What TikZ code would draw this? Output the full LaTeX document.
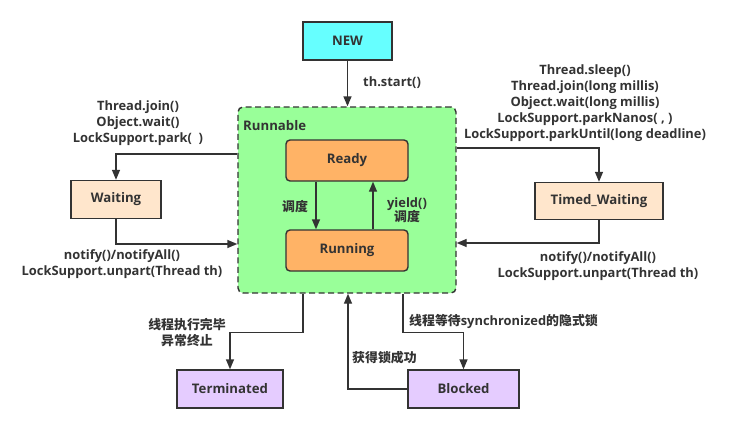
\documentclass[tikz,border=0pt]{standalone}
\usepackage{fontspec}
\setmainfont{Open Sans}
\newfontfamily\cjk{Noto Sans CJK SC}
\usetikzlibrary{arrows.meta}

\definecolor{linec}{HTML}{333333}
\definecolor{newc}{HTML}{66FFFF}
\definecolor{runc}{HTML}{99FF99}
\definecolor{readyc}{HTML}{FFB366}
\definecolor{waitc}{HTML}{FFE6CC}
\definecolor{endc}{HTML}{E5CCFF}

\newcommand{\zh}[1]{{\cjk #1}}

\tikzset{
    state/.style={draw=linec, line width=1.4pt, text=linec,
        font=\fontsize{13.2}{15}\selectfont\bfseries, inner sep=0pt},
    inner/.style={state, rounded corners=4pt, fill=readyc,
        minimum width=122pt, minimum height=41pt},
    arr/.style={draw=linec, line width=1.4pt,
        -{Triangle[length=10pt,width=8pt]}},
    lab/.style={text=linec, align=center, inner sep=0pt,
        font=\fontsize{12.9}{16}\selectfont\bfseries},
}

\begin{document}
\begin{tikzpicture}[x=1pt,y=-1pt]
        \useasboundingbox (0,0) rectangle (732,431);
        % states
        \node[state, fill=newc, minimum width=89pt, minimum height=38pt] (new) at (347.5,41) {NEW};
        \node[state, dashed, dash pattern=on 6pt off 3.5pt, rounded corners=5pt, fill=runc,
            minimum width=218pt, minimum height=186pt] (run) at (347,200) {};
        \node[lab, anchor=west, font=\fontsize{13.2}{15}\selectfont\bfseries] (runlab) at (243,126) {Runnable};
        \node[inner] (ready) at (347,160.5) {Ready};
        \node[inner] (running) at (347,250.5) {Running};
        \node[state, fill=waitc, minimum width=90pt, minimum height=38pt] (wait) at (116,199.5) {Waiting};
        \node[state, fill=waitc, minimum width=128pt, minimum height=37pt] (timed) at (599,201) {Timed\_Waiting};
        \node[state, fill=endc, minimum width=106pt, minimum height=38pt] (term) at (230,389) {Terminated};
        \node[state, fill=endc, minimum width=111pt, minimum height=38pt] (block) at (463.5,389) {Blocked};

        % transitions
        \draw[arr] (new) -- (run.north -| new);
        \node[lab, anchor=west] (startlab) at (363,83) {th.start()};

        \draw[arr] ([xshift=-31pt]ready.south) -- ([xshift=-31pt]running.north);
        \node[lab] (schedlab) at (295,207) {\zh{调度}};
        \draw[arr] ([xshift=26pt]running.north) -- ([xshift=26pt]ready.south);
        \node[lab] (yieldlab) at (407,210) {yield()\\[-2pt]\zh{调度}};

        \draw[arr] ([yshift=46pt]run.west) -| (wait.north);
        \node[lab] (waitin) at (138,123) {Thread.join()\\Object.wait()\\LockSupport.park(~~)};
        \draw[arr] (wait.south) |- ([yshift=-44pt]run.west);
        \node[lab] (waitout) at (122,264.5) {notify()/notifyAll()\\LockSupport.unpart(Thread th)};

        \draw[arr] ([yshift=52pt]run.east) -| (timed.north);
        \node[lab] (timedin) at (585,103) {Thread.sleep()\\Thread.join(long millis)\\Object.wait(long millis)\\LockSupport.parkNanos(~,~)\\LockSupport.parkUntil(long deadline)};
        \draw[arr] (timed.south) |- ([yshift=-43pt]run.east);
        \node[lab] (timedout) at (598,266) {notify()/notifyAll()\\LockSupport.unpart(Thread th)};

        \draw[arr] ([xshift=-44pt]run.south) -- ++(0,39) -| (term.north);
        \node[lab] (termlab) at (187,333) {\zh{线程执行完毕}\\\zh{异常终止}};
        \draw[arr] ([xshift=56pt]run.south) -- ++(0,39) -| (block.north);
        \node[lab, anchor=west] (blocklab) at (409,321) {\zh{线程等待}synchronized\zh{的隐式锁}};
        \draw[arr] (block.west) -| ([xshift=1pt]run.south);
        \node[lab, anchor=west] (locklab) at (352,358) {\zh{获得锁成功}};
    \end{tikzpicture}
\end{document}
